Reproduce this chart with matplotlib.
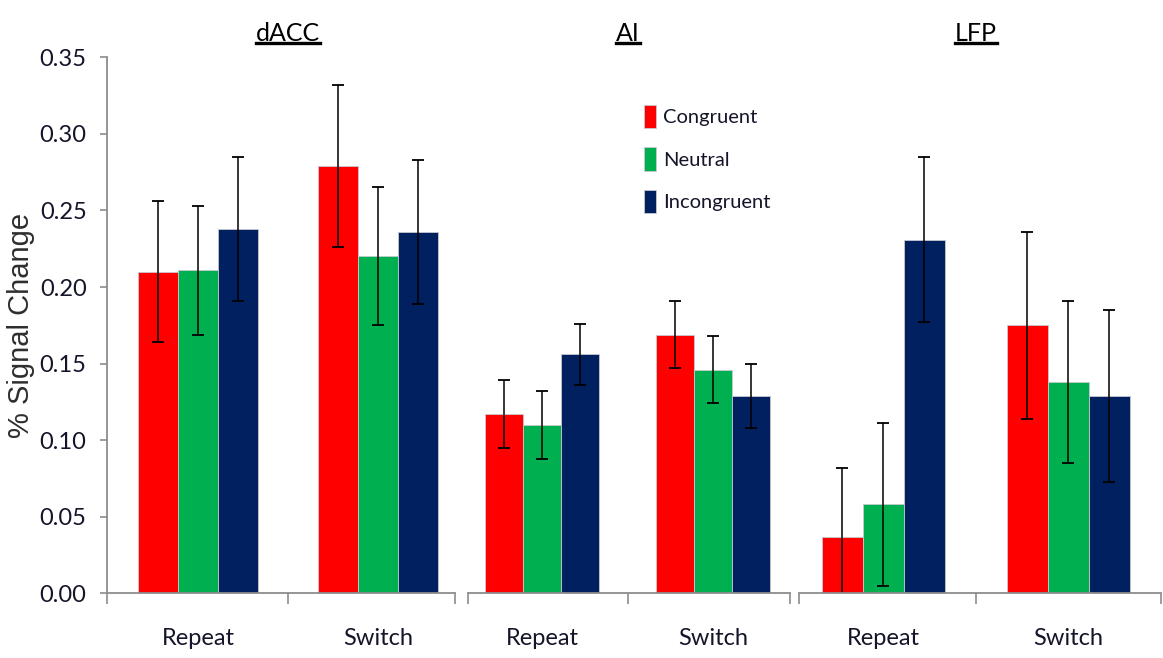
import matplotlib
matplotlib.use("Agg")
import matplotlib.pyplot as plt
from matplotlib.lines import Line2D
from matplotlib.patches import Patch

plt.rcParams['font.family'] = ['Lato', 'DejaVu Sans']

# data
regions = ['dACC', 'AI', 'LFP']
conditions = ['Repeat', 'Switch']
series = ['Congruent', 'Neutral', 'Incongruent']

congruent_mean = [[0.210, 0.279], [0.117, 0.169], [0.037, 0.175]]
neutral_mean = [[0.211, 0.220], [0.110, 0.146], [0.058, 0.138]]
incongruent_mean = [[0.238, 0.236], [0.156, 0.129], [0.231, 0.129]]

congruent_err = [[0.046, 0.053], [0.022, 0.022], [0.045, 0.061]]
neutral_err = [[0.042, 0.045], [0.022, 0.022], [0.053, 0.053]]
incongruent_err = [[0.047, 0.047], [0.020, 0.021], [0.054, 0.056]]

colors = ['#FF0000', '#00B050', '#002060']
text_col = '#15152A'
spine_col = '#8C8C8C'

fig = plt.figure(figsize=(11.63, 6.58), dpi=100)

# each region is its own little chart, like the original
boxes = [[0.0923, 0.0983, 0.2990, 0.8146],
         [0.4027, 0.0983, 0.2766, 0.8146],
         [0.6873, 0.0983, 0.3110, 0.8146]]
xlims = [(-0.506, 1.428), (-0.430, 1.448), (-0.455, 1.503)]
width = 0.222

axes = []
for r in range(3):
    ax = fig.add_axes(boxes[r])
    axes.append(ax)
    means = [congruent_mean[r], neutral_mean[r], incongruent_mean[r]]
    errs = [congruent_err[r], neutral_err[r], incongruent_err[r]]
    for k in range(3):
        xs = [c + (k - 1) * width for c in range(2)]
        ax.bar(xs, means[k], width, color=colors[k], edgecolor='#C8C8D0',
               linewidth=0.6, label=series[k])
        ax.errorbar(xs, means[k], yerr=errs[k], fmt='none', ecolor='black',
                    elinewidth=1.1, capsize=4.5, capthick=1.3)

    ax.set_xlim(*xlims[r])
    ax.set_ylim(0, 0.35)
    for s in ['top', 'right']:
        ax.spines[s].set_visible(False)
    ax.spines['bottom'].set_color(spine_col)
    ax.spines['bottom'].set_linewidth(1.3)

    # boundary ticks without labels, category labels as minor ticks
    ax.set_xticks([xlims[r][0], 0.5, xlims[r][1]])
    ax.set_xticklabels([])
    ax.tick_params(axis='x', which='major', length=8, width=1.2, color=spine_col)
    ax.set_xticks([0, 1], minor=True)
    ax.set_xticklabels(conditions, minor=True)
    ax.tick_params(axis='x', which='minor', length=0, pad=25,
                   labelsize=17, labelcolor=text_col)

    if r == 0:
        ax.spines['left'].set_color(spine_col)
        ax.spines['left'].set_linewidth(1.3)
        ax.set_yticks([0, 0.05, 0.10, 0.15, 0.20, 0.25, 0.30, 0.35])
        ax.set_yticklabels(['%.2f' % v for v in ax.get_yticks()])
        ax.tick_params(axis='y', length=5, width=1.2, color=spine_col, pad=10,
                       labelsize=17, labelcolor=text_col)
        ax.set_ylabel('% Signal Change', fontsize=21, color='#2E2E2E',
                      family=['Liberation Sans', 'DejaVu Sans'], labelpad=3)
    else:
        ax.spines['left'].set_visible(False)
        ax.set_yticks([])

    ax.text(0.5, 1.045, regions[r], transform=ax.get_xaxis_transform(),
            ha='center', va='center', fontsize=18, color='black')

# legend inside the AI panel
handles = [Patch(facecolor=c, edgecolor='#C8C8D0', linewidth=0.6) for c in colors]
fig.legend(handles, series, loc='upper left', bbox_to_anchor=(0.538, 0.868),
           frameon=False, fontsize=14.5, handlelength=0.6, handleheight=1.4,
           handletextpad=0.35, labelspacing=0.95, labelcolor=text_col)

# underline the region titles
fig.canvas.draw()
inv = fig.transFigure.inverted()
for ax in axes:
    t = ax.texts[0]
    bb = t.get_window_extent()
    (x0, _), (x1, _) = inv.transform([[bb.x0, 0], [bb.x1, 0]])
    fig.add_artist(Line2D([x0, x1], [0.935, 0.935], color='black', lw=2.4,
                          transform=fig.transFigure))

fig.savefig('out.png', dpi=100)
